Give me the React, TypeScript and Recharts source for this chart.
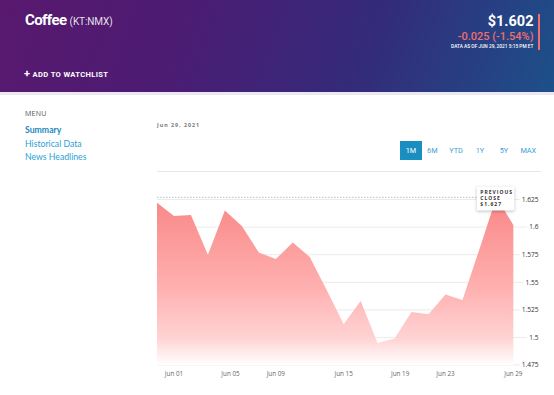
import React from 'react';
import { AreaChart, Area, XAxis, YAxis, CartesianGrid, ReferenceLine, ReferenceDot } from 'recharts';

const TRADE_DAYS = ['May 28', 'Jun 01', 'Jun 02', 'Jun 03', 'Jun 04', 'Jun 07', 'Jun 08', 'Jun 09', 'Jun 10', 'Jun 11', 'Jun 14', 'Jun 15', 'Jun 16', 'Jun 17', 'Jun 18', 'Jun 21', 'Jun 22', 'Jun 23', 'Jun 24', 'Jun 25', 'Jun 28', 'Jun 29'];
const PRICES = [1.622, 1.610, 1.611, 1.575, 1.615, 1.601, 1.577, 1.571, 1.586, 1.573, 1.543, 1.512, 1.533, 1.495, 1.499, 1.523, 1.521, 1.539, 1.534, 1.580, 1.627, 1.602];
const X_TICK_POS = [1, 4.33, 7, 11, 14.33, 17, 21];
const X_TICK_LABELS = ['Jun 01', 'Jun 05', 'Jun 09', 'Jun 15', 'Jun 19', 'Jun 23', 'Jun 29'];
const Y_TICKS = [1.475, 1.5, 1.525, 1.55, 1.575, 1.6, 1.625];
const Y_DOMAIN = [1.475, 1.64];
const PREV_CLOSE = 1.627;
const RANGES = ['1M', '6M', 'YTD', '1Y', '5Y', 'MAX'];
const MENU_ITEMS = ['Summary', 'Historical Data', 'News Headlines'];

const data = PRICES.map((v, i) => ({ i, day: TRADE_DAYS[i], v }));

const YTick = (props: any) => {
  const { y, payload } = props;
  const label = String(payload.value);
  const digits = label.replace('.', '').length;
  const w = digits * 3.78 + 1.7;
  const textRight = 538.5;
  return (
    <g>
      <rect x={textRight - w - 2} y={y - 4} width={w + 6} height={8} fill="#fff" />
      <text x={textRight} y={y} dy="0.35em" textAnchor="end" fontSize={6.6} fontFamily="'Open Sans', sans-serif" fill="#333">
        {label}
      </text>
    </g>
  );
};

const PrevCloseBox = (props: any) => {
  const { cx, cy } = props;
  const x0 = cx - 19.6;
  const y0 = cy - 10.8;
  const ts = { fontSize: 5, fontWeight: 700, letterSpacing: 1, fontFamily: "'Open Sans', sans-serif", fill: '#333' } as any;
  return (
    <g>
      <rect x={x0} y={y0} width={37.6} height={24} fill="#fff" rx={1} style={{ filter: 'drop-shadow(0 1px 1.5px rgba(0,0,0,0.25))' }} />
      <text x={x0 + 3.5} y={y0 + 7.2} {...ts}>PREVIOUS</text>
      <text x={x0 + 3.5} y={y0 + 13.2} {...ts}>CLOSE</text>
      <text x={x0 + 3.5} y={y0 + 19.6} {...ts}>${PREV_CLOSE.toFixed(3)}</text>
    </g>
  );
};

export default function App() {
  return (
    <div style={{ position: 'absolute', left: 0, top: 0, width: 554, height: 395, background: '#fff', overflow: 'hidden', fontFamily: 'Roboto, sans-serif' }}>
      <div style={{ position: 'absolute', left: 0, top: 0 }}>
        <AreaChart width={554} height={395} data={data} margin={{ top: 183, right: 12, bottom: 10, left: 157 }}>
          <defs>
            <linearGradient id="fillG" x1="0" y1="0" x2="0" y2="1">
              <stop offset="0%" stopColor="#f98686" />
              <stop offset="55%" stopColor="#ffb1b1" />
              <stop offset="84%" stopColor="#ffd3d3" />
              <stop offset="100%" stopColor="#ffffff" />
            </linearGradient>
          </defs>
          <CartesianGrid vertical={false} horizontalValues={Y_TICKS} stroke="#ebebeb" />
          <XAxis
            dataKey="i"
            type="number"
            domain={[0, 22.63]}
            allowDataOverflow
            ticks={X_TICK_POS}
            interval={0}
            tickFormatter={(v: number) => X_TICK_LABELS[X_TICK_POS.indexOf(v)] ?? ''}
            axisLine={false}
            tickLine={false}
            tickSize={0}
            tickMargin={7}
            height={20}
            tick={{ fontSize: 6.3, fill: '#666', fontFamily: "'Open Sans', sans-serif" }}
          />
          <YAxis
            orientation="right"
            width={1}
            domain={Y_DOMAIN}
            ticks={Y_TICKS}
            allowDataOverflow
            axisLine={false}
            tickLine={false}
            tick={<YTick />}
          />
          <Area dataKey="v" type="linear" stroke="none" fill="url(#fillG)" fillOpacity={1} isAnimationActive={false} dot={false} activeDot={false} />
          <ReferenceLine segment={[{ x: 0, y: PREV_CLOSE }, { x: 20, y: PREV_CLOSE }]} stroke="#bdbdbd" strokeDasharray="1.5 1.5" ifOverflow="visible" />
          <ReferenceDot x={20} y={PREV_CLOSE} r={0} ifOverflow="visible" shape={<PrevCloseBox />} />
        </AreaChart>
      </div>

      {/* Header */}
      <div style={{ position: 'absolute', left: 0, top: 0, width: 554, height: 92, background: 'linear-gradient(110deg, #58196f 0%, #4d1b72 30%, #342a7a 65%, #1d5089 100%)' }} />
      <div style={{ position: 'absolute', left: 0, top: 92, width: 554, height: 3, background: '#ece8f2' }} />
      <div style={{ position: 'absolute', left: 25, top: 13.4, color: '#fff', fontSize: 15, lineHeight: '15px', fontWeight: 700, letterSpacing: -0.6, whiteSpace: 'nowrap' }}>
        Coffee <span style={{ fontSize: 10, fontWeight: 400, letterSpacing: -0.1, color: 'rgba(255,255,255,0.88)' }}>(KT:NMX)</span>
      </div>
      <div style={{ position: 'absolute', right: 554 - 533.5, top: 14.5, color: '#fff', fontSize: 14.5, lineHeight: '14.5px', fontWeight: 700, whiteSpace: 'nowrap' }}>$1.602</div>
      <div style={{ position: 'absolute', right: 554 - 533.5, top: 31, color: '#f26d6d', fontSize: 11, lineHeight: '11px', fontWeight: 500, whiteSpace: 'nowrap' }}>-0.025 (-1.54%)</div>
      <div style={{ position: 'absolute', right: 554 - 533.5, top: 44.3, color: '#fff', fontSize: 4.8, lineHeight: '5px', fontWeight: 500, whiteSpace: 'nowrap' }}>DATA AS OF JUN 29, 2021 5:15 PM ET</div>
      <div style={{ position: 'absolute', left: 538, top: 14, width: 2.2, height: 35.5, background: '#f26d6d' }} />
      <div style={{ position: 'absolute', left: 24, top: 69.7, color: '#fff', fontSize: 7.6, lineHeight: '7.6px', fontWeight: 700, letterSpacing: 0.35, whiteSpace: 'nowrap' }}>
        <span style={{ fontSize: 11, lineHeight: '7.6px', position: 'relative', top: 0.6 }}>+</span> ADD TO WATCHLIST
      </div>

      {/* Menu */}
      <div style={{ position: 'absolute', left: 25, top: 109.5, color: '#555', fontSize: 7, lineHeight: '7px', letterSpacing: 0.3, fontFamily: "'Open Sans', sans-serif" }}>MENU</div>
      {MENU_ITEMS.map((m, k) => (
        <div key={m} style={{ position: 'absolute', left: 25, top: 125.3 + k * 13.35, color: k === 0 ? '#1a8cc0' : '#2a9fd4', fontSize: 8.7, lineHeight: '9px', fontWeight: k === 0 ? 700 : 400, fontFamily: 'Lato, sans-serif', whiteSpace: 'nowrap' }}>{m}</div>
      ))}

      {/* Date label */}
      <div style={{ position: 'absolute', left: 157, top: 122.3, color: '#777', fontSize: 5.3, lineHeight: '6px', fontWeight: 700, letterSpacing: 1, fontFamily: "'Open Sans', sans-serif", whiteSpace: 'nowrap' }}>Jun 29, 2021</div>

      {/* Range buttons */}
      {RANGES.map((r, k) => {
        const centers = [411, 432.3, 456, 480, 504, 528.3];
        const active = k === 0;
        return (
          <div key={r} style={{ position: 'absolute', left: centers[k] - 11, top: 140.7, width: 22, height: 19.3, background: active ? '#1a8fbf' : 'transparent', color: active ? '#fff' : '#3aa2d2', fontSize: 7.3, lineHeight: '19.3px', textAlign: 'center', fontFamily: 'Roboto, sans-serif' }}>{r}</div>
        );
      })}
      <div style={{ position: 'absolute', left: 157, top: 171, width: 384, height: 1.2, background: '#e6e6e6' }} />
    </div>
  );
}
